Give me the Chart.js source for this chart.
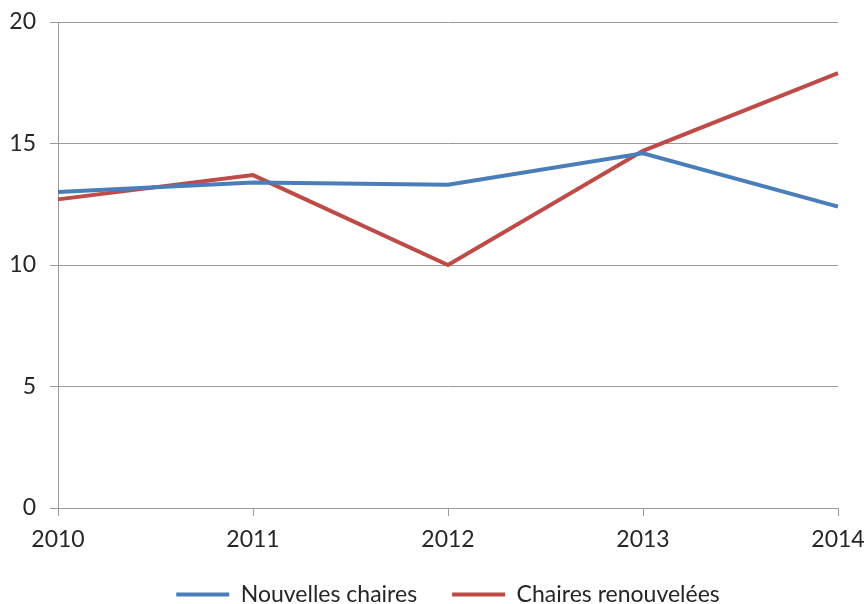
<!DOCTYPE html>
<html>
<head>
<meta charset="utf-8">
<script src="https://cdn.jsdelivr.net/npm/chart.js@4"></script>
<style>
  html, body { margin: 0; padding: 0; background: #fff; }
  #wrap { width: 866px; height: 604px; }
</style>
</head>
<body>
<div id="wrap"><canvas id="c" width="866" height="604"></canvas></div>
<script>
const years = ['2010', '2011', '2012', '2013', '2014'];
const nouvellesChaires = [13.0, 13.4, 13.3, 14.6, 12.4];
const chairesRenouvelees = [12.7, 13.7, 10.0, 14.7, 17.9];
const yTicks = [0, 5, 10, 15, 20];

const FONT = 'Lato';
const TEXT = '#262626';
const GRID = '#9a9a9a';
const LEGEND_TOP = 548;

// Places the legend row near the canvas bottom, keeping its box
// down to the canvas edge so nothing is clipped.
const legendPlacement = {
  id: 'legendPlacement',
  afterLayout(chart) {
    const lg = chart.legend;
    if (!lg) return;
    lg.top = LEGEND_TOP;
    lg.bottom = chart.height;
    lg.height = lg.bottom - lg.top;
  }
};

new Chart(document.getElementById('c'), {
  type: 'line',
  data: {
    labels: years,
    datasets: [
      {
        label: 'Nouvelles chaires',
        data: nouvellesChaires,
        borderColor: '#4a7ebb',
        backgroundColor: '#4a7ebb',
        borderWidth: 4,
        pointRadius: 0,
        tension: 0,
        fill: false
      },
      {
        label: 'Chaires renouvelées',
        data: chairesRenouvelees,
        borderColor: '#be4b48',
        backgroundColor: '#be4b48',
        borderWidth: 4,
        pointRadius: 0,
        tension: 0,
        fill: false
      }
    ]
  },
  plugins: [legendPlacement],
  options: {
    responsive: false,
    animation: false,
    devicePixelRatio: 1,
    layout: { padding: { top: 22, right: 28, left: 0, bottom: 0 } },
    plugins: {
      tooltip: { enabled: false },
      legend: {
        position: 'bottom',
        fullSize: false,
        maxHeight: 44,
        labels: {
          font: { family: FONT, size: 23 },
          color: TEXT,
          usePointStyle: true,
          pointStyle: 'line',
          pointStyleWidth: 53,
          padding: 35
        }
      }
    },
    scales: {
      x: {
        type: 'category',
        offset: false,
        grid: {
          display: true,
          drawOnChartArea: false,
          drawTicks: true,
          tickLength: 8,
          color: GRID
        },
        border: { display: true, color: GRID, width: 1 },
        ticks: {
          font: { family: FONT, size: 23 },
          color: TEXT,
          padding: 10,
          maxRotation: 0,
          autoSkip: false
        },
        afterFit: (s) => { s.height = 52; s.paddingLeft = 0; s.paddingRight = 0; }
      },
      y: {
        min: 0,
        max: 20,
        afterBuildTicks: (s) => { s.ticks = yTicks.map(v => ({ value: v })); },
        grid: {
          display: true,
          drawTicks: true,
          tickLength: 8,
          color: GRID
        },
        border: { display: true, color: GRID, width: 1 },
        ticks: {
          font: { family: FONT, size: 23 },
          color: TEXT,
          padding: 14
        },
        afterFit: (s) => { s.width = 58; s.paddingTop = 0; s.paddingBottom = 0; }
      }
    }
  }
});
</script>
</body>
</html>
